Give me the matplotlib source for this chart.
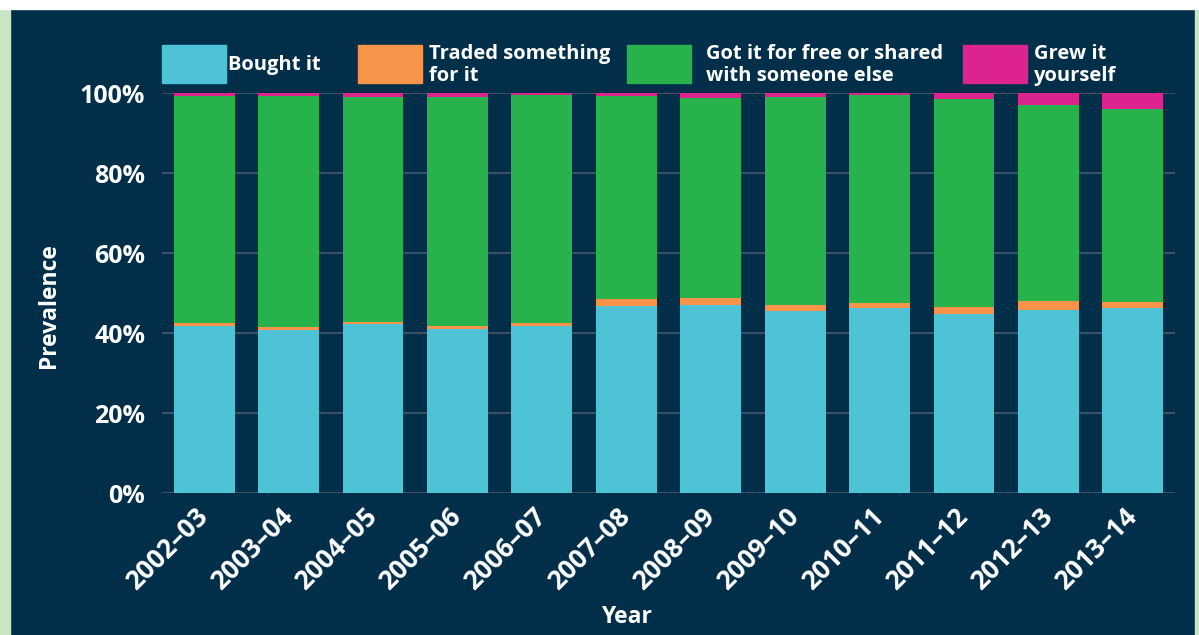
import matplotlib as mpl
from matplotlib import pyplot as plt
from matplotlib.patches import Rectangle
import numpy as np

mpl.rcParams['font.family'] = ['Open Sans', 'DejaVu Sans']
mpl.rcParams['font.weight'] = 'bold'

years = ['2002–03', '2003–04', '2004–05', '2005–06', '2006–07', '2007–08',
         '2008–09', '2009–10', '2010–11', '2011–12', '2012–13', '2013–14']
bought = [41.9, 40.8, 42.4, 41.1, 41.9, 46.9, 47.1, 45.6, 46.4, 44.9, 45.9, 46.4]
traded = [0.7, 0.8, 0.4, 0.7, 0.7, 1.7, 1.7, 1.5, 1.2, 1.7, 2.2, 1.4]
free = [56.65, 57.65, 56.3, 57.3, 57.0, 50.65, 50.0, 52.1, 52.0, 52.0, 49.0, 48.3]
grew = [0.75, 0.75, 0.9, 0.9, 0.4, 0.75, 1.2, 0.8, 0.4, 1.4, 2.9, 3.9]

labels = ['Bought it', 'Traded something\nfor it',
          'Got it for free or shared\nwith someone else', 'Grew it\nyourself']
colors = ['#4fc3d6', '#f7944a', '#27b24b', '#dc2390']

navy = '#012e48'
W, H = 1199, 635

fig = plt.figure(figsize=(W/100, H/100), dpi=100)
fig.patch.set_facecolor(navy)

# frame strips around the panel
fig.add_artist(Rectangle((0, 0), 10/W, 1, transform=fig.transFigure,
                         color='#c8e6c4', zorder=0))
fig.add_artist(Rectangle((1195/W, 0), 4/W, 1, transform=fig.transFigure,
                         color='#c8e6c4', zorder=0))
fig.add_artist(Rectangle((0, 1-9/H), 1, 9/H, transform=fig.transFigure,
                         color='white', zorder=0))

ax = fig.add_axes([162/W, (H-493.3)/H, 1013/W, 400/H])
ax.set_facecolor(navy)

x = np.arange(len(years))
series = [bought, traded, free, grew]
bottom = np.zeros(len(years))
for vals, c in zip(series, colors):
    ax.bar(x, vals, bottom=bottom, width=0.72, color=c, zorder=3)
    bottom += np.array(vals)

ax.set_xlim(-0.5, len(years)-0.5)
ax.set_ylim(0, 100)
ax.set_yticks(np.arange(0, 101, 20))
ax.set_yticklabels([f'{v}%' for v in range(0, 101, 20)])
ax.set_xticks(x)
ax.set_xticklabels(years, rotation=45, ha='right', va='center',
                   rotation_mode='anchor')
ax.grid(axis='y', color='#3b4f66', linewidth=1.5, zorder=0)
for s in ax.spines.values():
    s.set_visible(False)
ax.tick_params(axis='both', length=0, colors='white')
ax.tick_params(axis='y', pad=12, labelsize=18)
ax.tick_params(axis='x', pad=14, labelsize=19)

ax.set_ylabel('Prevalence', color='white', fontsize=16.5, fontweight='bold')
ax.yaxis.set_label_coords(-0.1, 0.47)
ax.set_xlabel('Year', color='white', fontsize=16.5, fontweight='bold')
ax.xaxis.set_label_coords(0.459, -0.28)

# legend drawn by hand
rect_x = [162, 358, 627, 963]
text_x = [228, 429, 706, 1034]
for rx, tx, lab, c in zip(rect_x, text_x, labels, colors):
    fig.add_artist(Rectangle((rx/W, (H-83)/H), 64/W, 38/H,
                             transform=fig.transFigure, color=c))
    fig.text(tx/W, (H-65)/H, lab, color='white', fontsize=14.5,
             fontweight='bold', ha='left', va='center', linespacing=1.15)

fig.savefig('out.png', dpi=100, facecolor=fig.get_facecolor())
